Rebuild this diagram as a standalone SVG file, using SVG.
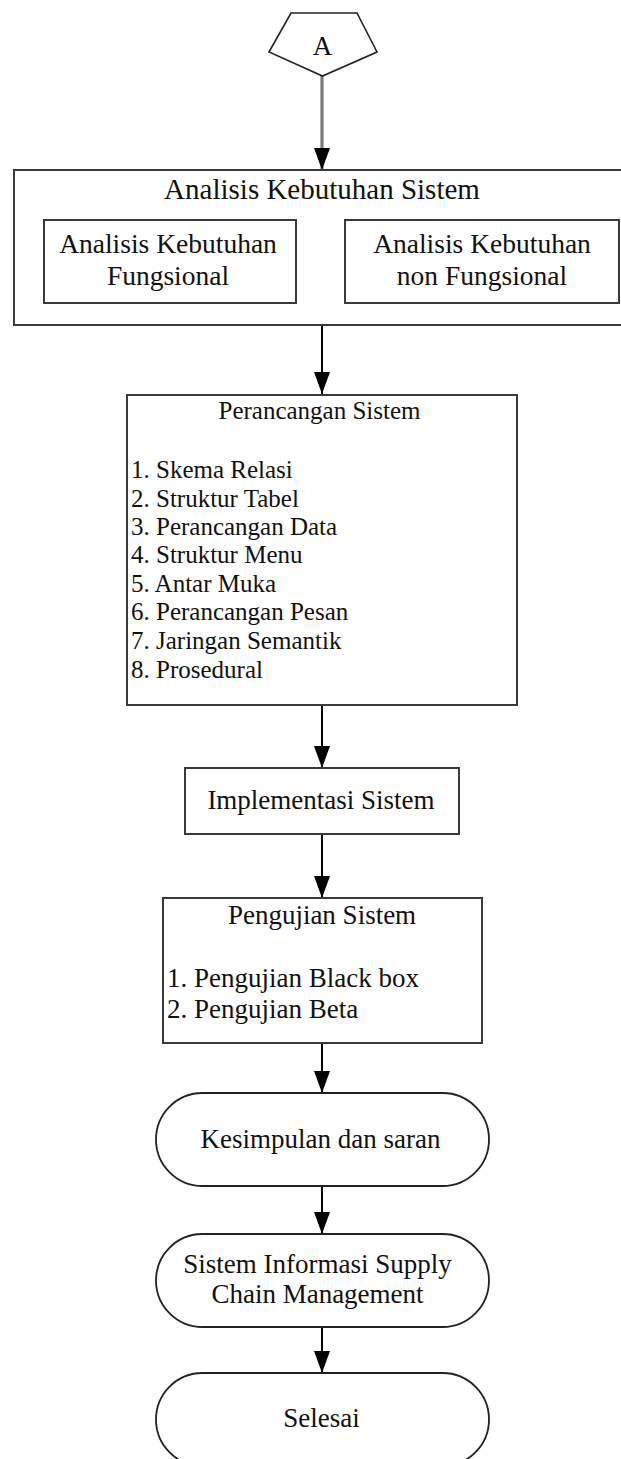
<svg xmlns="http://www.w3.org/2000/svg" width="621" height="1459" viewBox="0 0 621 1459">
<style>
.t{font-family:"Liberation Serif","Times New Roman",serif;fill:#111;}
.box{fill:#fff;stroke:#3a3a3a;stroke-width:2;}
.term{fill:#fff;stroke:#222;stroke-width:1.8;}
.c{stroke:#000;stroke-width:2;fill:none;marker-end:url(#arr);}
.cg{stroke:#7a7a7a;stroke-width:3.2;fill:none;marker-end:url(#arr);}
</style>
<defs>
<marker id="arr" markerUnits="userSpaceOnUse" markerWidth="22" markerHeight="16" refX="22" refY="8" orient="auto" viewBox="0 0 22 16">
<path d="M0,0 L22,8 L0,16 Z" fill="#000"/>
</marker>
</defs>
<rect width="621" height="1459" fill="#fff"/>
<g id="connectors">
<line class="cg" x1="322" y1="76" x2="322" y2="170"/>
<line class="c" x1="322" y1="326" x2="322" y2="394"/>
<line class="c" x1="322" y1="706" x2="322" y2="768"/>
<line class="c" x1="322" y1="835" x2="322" y2="898"/>
<line class="c" x1="322" y1="1044" x2="322" y2="1093"/>
<line class="c" x1="322" y1="1187" x2="322" y2="1234"/>
<line class="c" x1="322" y1="1328" x2="322" y2="1373"/>
</g>
<g id="node-A">
<polygon points="291,13 357,13 377,52 322.5,76 269,52" fill="#fff" stroke="#222" stroke-width="1.6"/>
<text class="t" x="322.5" y="55" font-size="27" text-anchor="middle">A</text>
</g>
<g id="node-analisis">
<rect class="box" x="14" y="170" width="620" height="155"/>
<text class="t" x="322" y="199" font-size="29" text-anchor="middle">Analisis Kebutuhan Sistem</text>
</g>
<g id="node-fungsional">
<rect class="box" x="44" y="220" width="252" height="83"/>
<text class="t" x="168" y="253" font-size="27.5" text-anchor="middle">Analisis Kebutuhan</text>
<text class="t" x="168" y="285" font-size="27.5" text-anchor="middle">Fungsional</text>
</g>
<g id="node-nonfungsional">
<rect class="box" x="345" y="220" width="274" height="83"/>
<text class="t" x="482" y="253" font-size="27.5" text-anchor="middle">Analisis Kebutuhan</text>
<text class="t" x="482" y="285" font-size="27.5" text-anchor="middle">non Fungsional</text>
</g>
<g id="node-perancangan">
<rect class="box" x="127" y="395" width="390" height="310"/>
<text class="t" x="319.5" y="419" font-size="25" text-anchor="middle">Perancangan Sistem</text>
<text class="t" x="131" y="478" font-size="25">1. Skema Relasi</text>
<text class="t" x="131" y="507" font-size="25">2. Struktur Tabel</text>
<text class="t" x="131" y="535" font-size="25">3. Perancangan Data</text>
<text class="t" x="131" y="563" font-size="25">4. Struktur Menu</text>
<text class="t" x="131" y="592" font-size="25">5. Antar Muka</text>
<text class="t" x="131" y="620" font-size="25">6. Perancangan Pesan</text>
<text class="t" x="131" y="649" font-size="25">7. Jaringan Semantik</text>
<text class="t" x="131" y="678" font-size="25">8. Prosedural</text>
</g>
<g id="node-implementasi">
<rect class="box" x="185" y="768" width="274" height="66"/>
<text class="t" x="321" y="809" font-size="27" text-anchor="middle">Implementasi Sistem</text>
</g>
<g id="node-pengujian">
<rect class="box" x="163" y="898" width="319" height="145"/>
<text class="t" x="322" y="924" font-size="27" text-anchor="middle">Pengujian Sistem</text>
<text class="t" x="167" y="987" font-size="27">1. Pengujian Black box</text>
<text class="t" x="167" y="1018" font-size="27">2. Pengujian Beta</text>
</g>
<g id="node-kesimpulan">
<rect class="term" x="156" y="1093" width="333" height="93" rx="46.5" ry="46.5"/>
<text class="t" x="320.5" y="1148" font-size="27" text-anchor="middle">Kesimpulan dan saran</text>
</g>
<g id="node-scm">
<rect class="term" x="156" y="1234" width="333" height="93" rx="46.5" ry="46.5"/>
<text class="t" x="317.5" y="1273" font-size="27" text-anchor="middle">Sistem Informasi Supply</text>
<text class="t" x="317.5" y="1303" font-size="27" text-anchor="middle">Chain Management</text>
</g>
<g id="node-selesai">
<rect class="term" x="156" y="1373" width="333" height="93" rx="46.5" ry="46.5"/>
<text class="t" x="321.5" y="1427" font-size="27" text-anchor="middle">Selesai</text>
</g>
</svg>
